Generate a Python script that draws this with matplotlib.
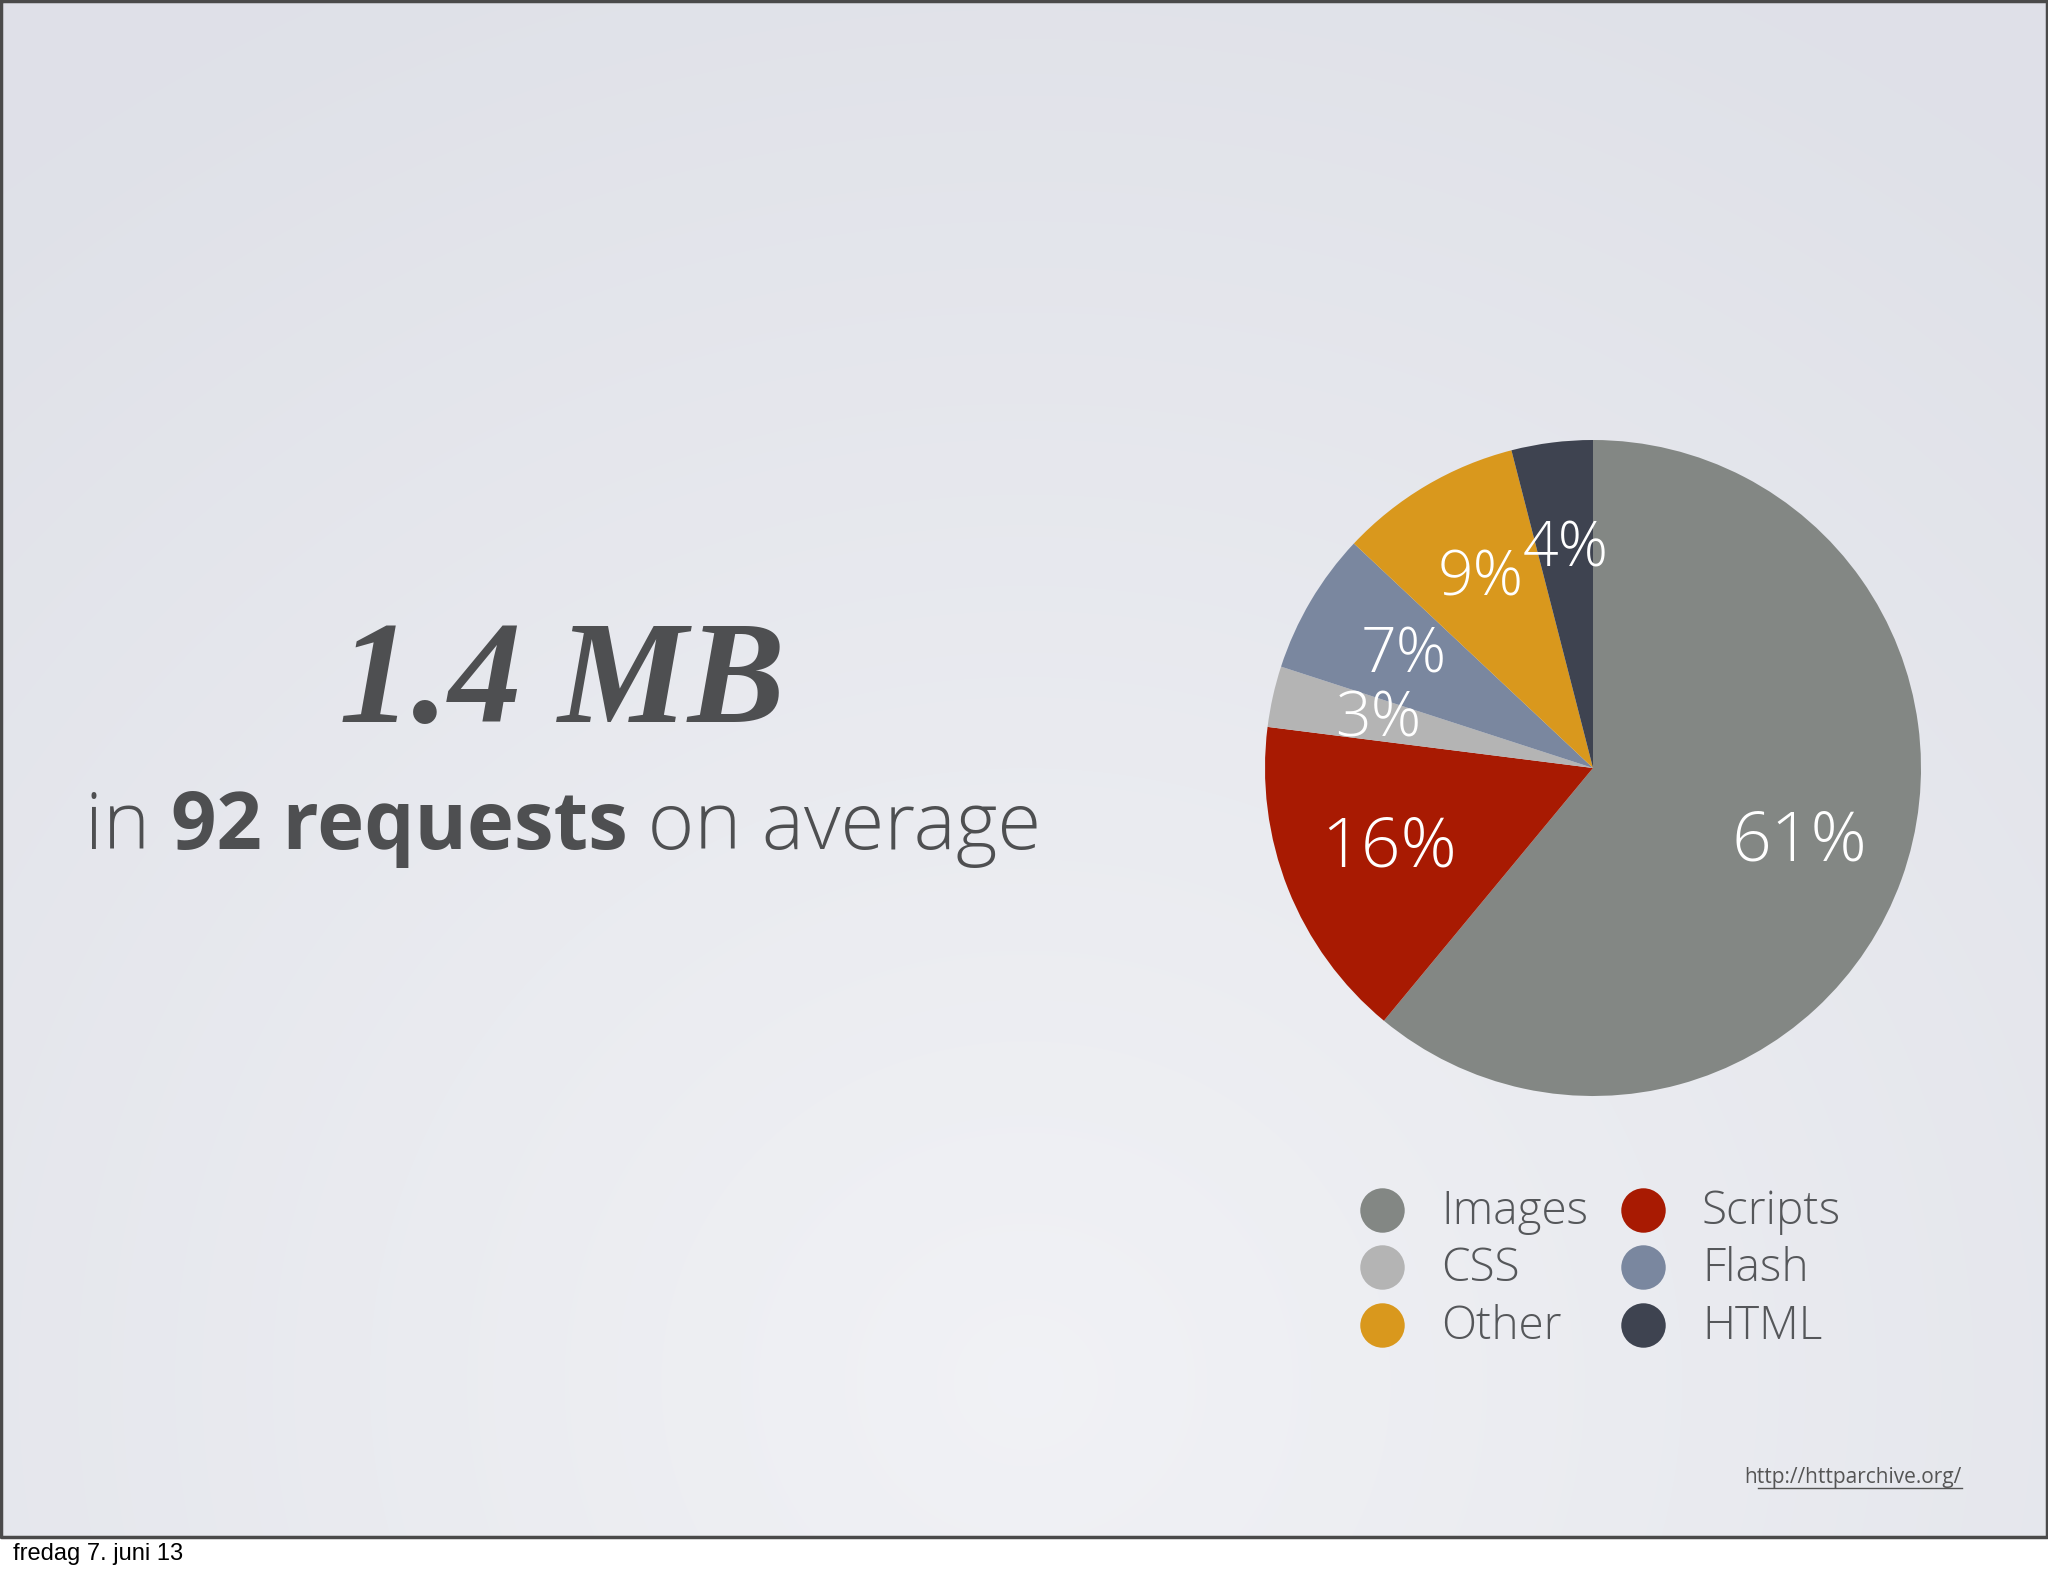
import numpy as np
import matplotlib
matplotlib.use("Agg")
import matplotlib.pyplot as plt

# data
labels = ["Images", "Scripts", "CSS", "Flash", "Other", "HTML"]
shares = [61, 16, 3, 7, 9, 4]
colors = ["#838784", "#a81a02", "#b4b4b4", "#7a879f", "#d9981d", "#3e4350"]

legend_col1 = ["Images", "CSS", "Other"]
legend_col2 = ["Scripts", "Flash", "HTML"]

W, H = 2048, 1576
SLIDE_H = 1537
LIGHT = "Open Sans"

fig = plt.figure(figsize=(W / 100, H / 100), dpi=100)
fig.patch.set_facecolor("white")

# overlay axes in pixel coords (y down)
bg = fig.add_axes([0, 0, 1, 1])
bg.set_xlim(0, W)
bg.set_ylim(H, 0)
bg.axis("off")

# slide background gradient
yy, xx = np.mgrid[0:SLIDE_H:4, 0:W:4]
d = np.sqrt(((xx - W * 0.5) / (W * 0.8)) ** 2 + ((yy - SLIDE_H * 0.9) / (SLIDE_H * 1.0)) ** 2)
d = np.clip(d, 0, 1)
c0 = np.array([0.945, 0.948, 0.962])
c1 = np.array([0.875, 0.882, 0.910])
img = c0[None, None, :] * (1 - d[..., None]) + c1[None, None, :] * d[..., None]
bg.imshow(img, extent=(0, W, SLIDE_H, 0), aspect="auto", zorder=0, interpolation="bilinear")
bg.plot([1, W - 1, W - 1, 1, 1], [1, 1, SLIDE_H, SLIDE_H, 1], color="#4a4a4a", lw=2.5, zorder=1)

txt_col = "#4e4f51"

# big number
bg.text(562, 686, "1.4 MB", fontsize=105, fontweight="bold", fontstyle="italic",
        family="Liberation Serif", color=txt_col, ha="center", va="center", zorder=3)

# subtitle with mixed weights
parts = [("in ", "light"), ("92 requests", "bold"), (" on average", "light")]
fig.canvas.draw()
r = fig.canvas.get_renderer()
x = 85
for s, w in parts:
    t = bg.text(x, 849, s, fontsize=57.3, fontweight=w, family=LIGHT, color=txt_col,
                ha="left", va="baseline", zorder=3)
    bb = t.get_window_extent(renderer=r)
    x += bb.width

# pie
cx, cy, rad = 1593, 768, 328
pax = fig.add_axes([(cx - rad) / W, (H - cy - rad) / H, 2 * rad / W, 2 * rad / H])
wedges, _, autotexts = pax.pie(shares, colors=colors, startangle=90, counterclock=False,
                                autopct="%d%%", pctdistance=0.67,
                                textprops=dict(color="white", fontsize=50, family=LIGHT,
                                               fontweight="light"),
                                wedgeprops=dict(linewidth=0))
pax.set_xlim(-1, 1)
pax.set_ylim(-1, 1)
pax.set_aspect("auto")
for t in autotexts[2:]:
    t.set_fontsize(45)

# legend
rows_y = [1210, 1267, 1325]
for col_x, names in [(1382, legend_col1), (1643, legend_col2)]:
    for yv, name in zip(rows_y, names):
        bg.scatter([col_x], [yv], s=32 ** 2, color=colors[labels.index(name)],
                   zorder=3, linewidths=0)
        bg.text(col_x + 59, yv + 2, name, fontsize=33, family=LIGHT, fontweight="light",
                color="#55575a", ha="left", va="center", zorder=3)

# source
bg.text(1962, 1477, "http://httparchive.org/", fontsize=15, family=LIGHT, color="#555555",
        ha="right", va="center", zorder=3)
bg.plot([1758, 1962], [1488, 1488], color="#555555", lw=1, zorder=3)

# footer
bg.text(13, 1554, "fredag 7. juni 13", fontsize=17, family="Liberation Sans", color="black",
        ha="left", va="center", zorder=3)

fig.savefig("out.png", dpi=100, facecolor="white")
